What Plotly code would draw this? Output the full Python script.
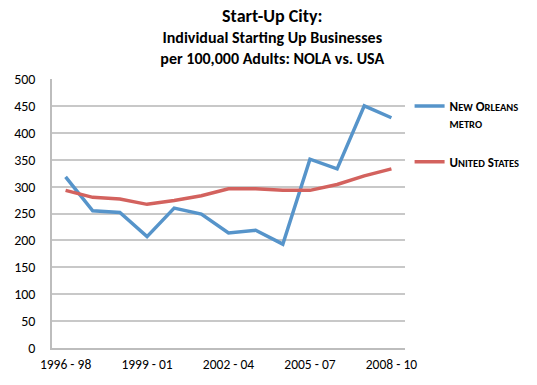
import plotly.graph_objects as go

categories = ["1996 - 98", "1997 - 99", "1998 - 00", "1999 - 01", "2000 - 02", "2001 - 03",
              "2002 - 04", "2003 - 05", "2004 - 06", "2005 - 07", "2006 - 08", "2007 - 09", "2008 - 10"]
new_orleans = [318, 255, 252, 207, 260, 249, 214, 219, 193, 351, 333, 450, 428]
united_states = [293, 280, 277, 267, 274, 283, 296, 296, 293, 293, 304, 320, 333]
tick_labels = ["1996 - 98", "1999 - 01", "2002 - 04", "2005 - 07", "2008 - 10"]

FONT = "Carlito, Calibri, Lato, sans-serif"
BLUE = "#5694CA"
RED = "#D3625E"
SC = "font-size:10.5px"

fig = go.Figure()
fig.add_trace(go.Scatter(
    x=categories, y=new_orleans, mode="lines",
    line=dict(color=BLUE, width=3.5),
    name=f"<b>N<span style='{SC}'>EW</span> O<span style='{SC}'>RLEANS</span><br><span style='{SC}'>METRO</span></b>",
    legendgroup="a",
))
fig.add_trace(go.Scatter(
    x=categories, y=united_states, mode="lines",
    line=dict(color=RED, width=3.5),
    name=f"<b>U<span style='{SC}'>NITED</span> S<span style='{SC}'>TATES</span></b>",
    legendgroup="b",
))

fig.update_layout(
    width=537, height=385,
    margin=dict(l=52, r=112, t=79, b=37),
    paper_bgcolor="white", plot_bgcolor="white",
    font=dict(family=FONT, size=12, color="black"),
    title=dict(
        text="<span style='font-size:18px'>Start-Up City:</span><br>Individual Starting Up Businesses<br>per 100,000 Adults: NOLA vs. USA",
        x=0.507, xanchor="center", xref="container", y=0.942, yanchor="middle", yref="container",
        font=dict(family=FONT, size=16, color="black", weight="bold"),
    ),
    showlegend=True,
    legend=dict(
        x=1.013, xanchor="left", y=0.955, yanchor="top",
        traceorder="grouped", tracegroupgap=19, valign="top",
        font=dict(family=FONT, size=13, color="black"),
        itemwidth=30, bgcolor="rgba(0,0,0,0)",
    ),
    xaxis=dict(
        type="category",
        tickmode="array", tickvals=tick_labels, ticktext=tick_labels,
        showgrid=False, showline=True, linecolor="#BDBDBD", linewidth=1.5,
        ticks="", tickfont=dict(size=13.5), range=[-0.5, 12.5], ticklabelstandoff=3,
    ),
    yaxis=dict(
        range=[0, 500], dtick=50, showgrid=True, gridcolor="#C8C8C8", gridwidth=1.5,
        showline=True, linecolor="#BDBDBD", linewidth=1.5, zeroline=False,
        ticks="", ticklabelstandoff=12, tickfont=dict(size=14),
    ),
)

fig.write_html("out.html", config={"displayModeBar": False},
               post_script="document.body.style.margin='0';")
